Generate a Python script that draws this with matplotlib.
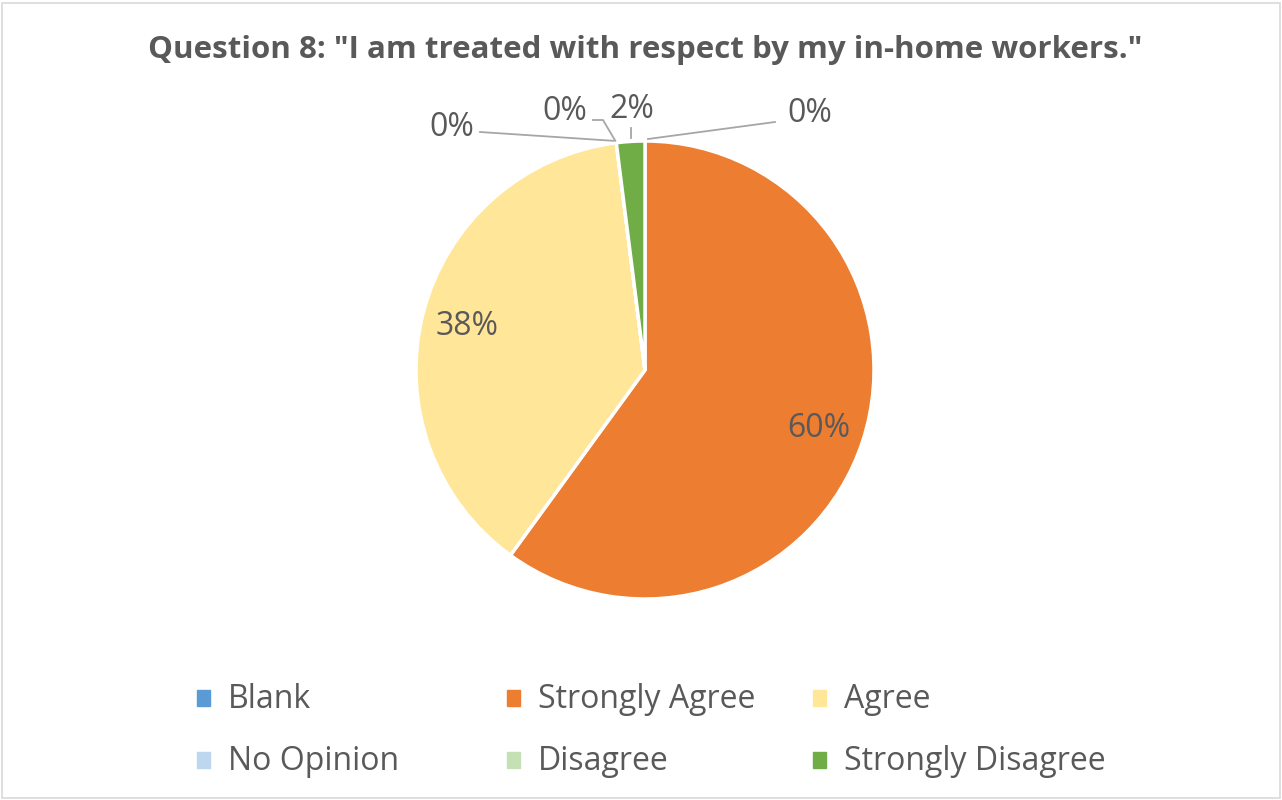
import matplotlib.pyplot as plt
from matplotlib.patches import Rectangle
import numpy as np

categories = ["Blank", "Strongly Agree", "Agree", "No Opinion", "Disagree", "Strongly Disagree"]
shares = [0, 60, 38, 0, 0, 2]
colors = ["#5B9BD5", "#ED7D31", "#FFE699", "#BDD7EE", "#C5E0B4", "#70AD47"]
title = 'Question 8: "I am treated with respect by my in-home workers."'

plt.rcParams['font.family'] = ['Open Sans', 'DejaVu Sans']
txt = "#595959"

fig = plt.figure(figsize=(12.82, 8), dpi=100)
fig.patch.set_facecolor("white")
ax = fig.add_axes([0, 0, 1, 1])

cx, cy, r = 645, 370, 229
# y axis is inverted (pixel coords), so "counterclock" in data = clockwise on screen
wedges, _ = ax.pie(shares, colors=colors, startangle=-90, counterclock=True,
                   center=(cx, cy), radius=r, frame=True,
                   wedgeprops=dict(edgecolor="white", linewidth=2.5))
ax.set_xlim(0, 1282)
ax.set_ylim(800, 0)
ax.set_aspect("equal")
ax.axis("off")

# frame around the chart
ax.add_patch(Rectangle((2, 3), 1278, 795, fill=False, ec="#D9D9D9", lw=1.2))

# callouts for the tiny slices: (text x, text y, elbow x, elbow y) in pixels
callouts = {
    0: (810, 113, 775, 122),
    3: (452, 128, 480, 132),
    4: (565, 111, 593, 120),
    5: (632, 109, 631, 128),
}
total = sum(shares)
ang = 90.0
for i, v in enumerate(shares):
    span = 360.0 * v / total
    mid = np.deg2rad(ang - span / 2)
    lab = f"{v / total:.0%}"
    if i in callouts:
        tx, ty, ex, ey = callouts[i]
        a = np.deg2rad(ang) if i in (3, 4) else mid
        px, py = cx + r * np.cos(a), cy - r * np.sin(a)
        if i == 4:
            ax.plot([px - 1, ex + 10, ex], [py - 2, ey, ey], color="#A6A6A6", lw=1.3)
        elif i == 5:
            ax.plot([px, px], [py - 3, ey], color="#A6A6A6", lw=1.3)
        elif i == 0:
            ax.plot([px + 3, ex], [py - 2, ey], color="#A6A6A6", lw=1.3)
        else:
            ax.plot([px - 3, ex], [py - 2, ey], color="#A6A6A6", lw=1.3)
        ax.text(tx, ty, lab, fontsize=23, color=txt, ha="center", va="center")
    else:
        ax.text(cx + 0.8 * r * np.cos(mid), cy - 0.8 * r * np.sin(mid) + 2, lab,
                fontsize=23, color=txt, ha="center", va="center")
    ang -= span

ax.text(645, 50, title, fontsize=22.5, fontweight="bold", color=txt,
        ha="center", va="center")

# legend, row-major, three columns
col_x = [197, 507, 813]
row_y = [698, 760]
for i, (name, c) in enumerate(zip(categories, colors)):
    x = col_x[i % 3]
    y = row_y[i // 3]
    ax.add_patch(Rectangle((x, y - 8), 13, 16, color=c))
    ax.text(x + 31, y + 2, name, fontsize=23, color=txt, ha="left", va="center")

fig.savefig("out.png", dpi=100)
